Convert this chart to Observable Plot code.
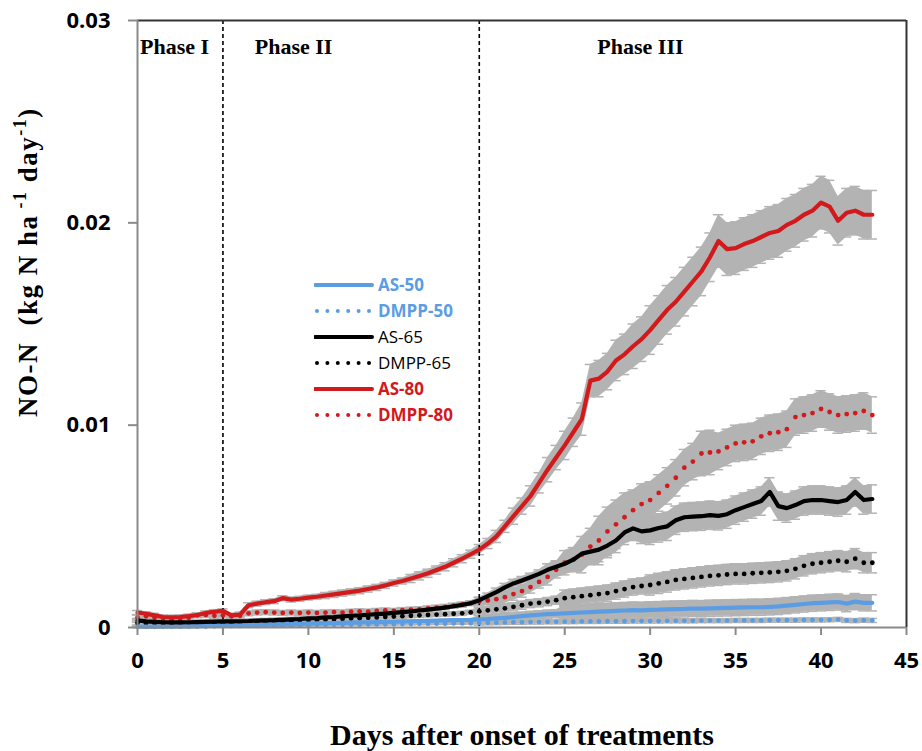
<!DOCTYPE html>
<html><head><meta charset="utf-8">
<script src="https://cdn.jsdelivr.net/npm/d3@7"></script>
<script src="https://cdn.jsdelivr.net/npm/@observablehq/plot@0.6"></script>
<style>
body{margin:0;background:#fff;}
#wrap{position:relative;width:922px;height:751px;}
.legend{position:absolute;left:314px;top:272px;font-family:"Open Sans",sans-serif;font-size:17px;line-height:26px;}
.legend .row{display:flex;align-items:center;height:26px;white-space:nowrap;}
.legend svg{width:64px;height:10px;flex:none;}
</style></head>
<body><div id="wrap"></div>
<script>
// ---- data (days after onset of treatments) ----
const days = [0,0.5,1,1.5,2,2.5,3,3.5,4,4.5,5,5.5,6,6.5,7,7.5,8,8.5,9,9.5,10,10.5,11,11.5,12,12.5,13,13.5,14,14.5,15,15.5,16,16.5,17,17.5,18,18.5,19,19.5,20,20.5,21,21.5,22,22.5,23,23.5,24,24.5,25,25.5,26,26.5,27,27.5,28,28.5,29,29.5,30,30.5,31,31.5,32,32.5,33,33.5,34,34.5,35,35.5,36,36.5,37,37.5,38,38.5,39,39.5,40,40.5,41,41.5,42,42.5,43];
const seriesNames = ["AS-50","DMPP-50","AS-65","DMPP-65","AS-80","DMPP-80"];

const AS50 = [0.00005,0.00004,0.00004,0.00005,0.00005,0.00006,0.00006,0.00007,0.00008,0.00008,
 0.00009,0.00010,0.00011,0.00012,0.00013,0.00014,0.00015,0.00016,0.00017,0.00018,
 0.00019,0.00020,0.00021,0.00022,0.00023,0.00024,0.00025,0.00026,0.00027,0.00028,
 0.00029,0.00030,0.00031,0.00032,0.00033,0.00034,0.00035,0.00036,0.00037,0.00038,
 0.00040,0.00042,0.00045,0.00048,0.00052,0.00056,0.00060,0.00063,0.00066,0.00068,
 0.00070,0.00072,0.00074,0.00076,0.00078,0.00080,0.00082,0.00084,0.00086,0.00085,
 0.00087,0.00088,0.00090,0.00091,0.00092,0.00094,0.00093,0.00095,0.00096,0.00097,
 0.00098,0.00099,0.00100,0.00100,0.00102,0.00104,0.00108,0.00112,0.00116,0.00120,
 0.00122,0.00124,0.00126,0.00118,0.00128,0.00122,0.00122];
const DMPP50 = [0.00003,0.00003,0.00003,0.00004,0.00004,0.00004,0.00005,0.00005,0.00005,0.00006,
 0.00006,0.00007,0.00007,0.00008,0.00008,0.00009,0.00009,0.00010,0.00010,0.00011,
 0.00011,0.00012,0.00012,0.00013,0.00013,0.00014,0.00014,0.00015,0.00015,0.00016,
 0.00016,0.00017,0.00017,0.00018,0.00018,0.00019,0.00019,0.00020,0.00020,0.00021,
 0.00022,0.00023,0.00024,0.00025,0.00026,0.00026,0.00027,0.00027,0.00028,0.00028,
 0.00029,0.00029,0.00030,0.00030,0.00030,0.00031,0.00031,0.00031,0.00032,0.00032,
 0.00032,0.00032,0.00033,0.00033,0.00033,0.00033,0.00034,0.00034,0.00034,0.00034,
 0.00035,0.00035,0.00035,0.00035,0.00036,0.00036,0.00036,0.00036,0.00037,0.00037,
 0.00037,0.00038,0.00040,0.00035,0.00034,0.00036,0.00035];
const AS65 = [0.00035,0.00030,0.00028,0.00026,0.00025,0.00025,0.00026,0.00027,0.00028,0.00029,
 0.00030,0.00030,0.00031,0.00032,0.00034,0.00035,0.00036,0.00038,0.00040,0.00042,
 0.00045,0.00047,0.00050,0.00052,0.00055,0.00058,0.00060,0.00063,0.00066,0.00069,
 0.00072,0.00076,0.00080,0.00084,0.00088,0.00093,0.00098,0.00105,0.00112,0.00120,
 0.00135,0.00155,0.00175,0.00198,0.00218,0.00232,0.00248,0.00265,0.00285,0.00300,
 0.00315,0.00335,0.00365,0.00375,0.00385,0.00405,0.00430,0.00470,0.00490,0.00475,
 0.00480,0.00492,0.00500,0.00530,0.00545,0.00548,0.00550,0.00555,0.00552,0.00560,
 0.00580,0.00595,0.00610,0.00625,0.00670,0.00600,0.00590,0.00605,0.00625,0.00630,
 0.00630,0.00625,0.00620,0.00630,0.00670,0.00630,0.00635];
const DMPP65 = [0.00022,0.00020,0.00018,0.00017,0.00017,0.00018,0.00018,0.00019,0.00020,0.00020,
 0.00021,0.00022,0.00023,0.00024,0.00025,0.00026,0.00028,0.00030,0.00031,0.00033,
 0.00035,0.00036,0.00038,0.00040,0.00042,0.00044,0.00046,0.00048,0.00050,0.00052,
 0.00054,0.00056,0.00058,0.00060,0.00062,0.00064,0.00066,0.00068,0.00070,0.00075,
 0.00080,0.00085,0.00090,0.00095,0.00102,0.00110,0.00118,0.00122,0.00128,0.00135,
 0.00145,0.00150,0.00155,0.00160,0.00165,0.00170,0.00180,0.00190,0.00200,0.00205,
 0.00210,0.00218,0.00225,0.00235,0.00240,0.00245,0.00250,0.00255,0.00258,0.00262,
 0.00265,0.00265,0.00268,0.00270,0.00272,0.00275,0.00280,0.00290,0.00305,0.00315,
 0.00320,0.00325,0.00330,0.00325,0.00340,0.00320,0.00320];
const AS80 = [0.00074,0.00068,0.00060,0.00052,0.00050,0.00052,0.00056,0.00062,0.00072,0.00078,
 0.00082,0.00060,0.00064,0.00110,0.00118,0.00125,0.00130,0.00145,0.00138,0.00142,
 0.00148,0.00152,0.00158,0.00164,0.00170,0.00176,0.00182,0.00190,0.00198,0.00208,
 0.00220,0.00230,0.00242,0.00255,0.00268,0.00284,0.00300,0.00320,0.00340,0.00362,
 0.00385,0.00415,0.00450,0.00500,0.00550,0.00600,0.00650,0.00715,0.00780,0.00840,
 0.00900,0.00965,0.01030,0.01220,0.01230,0.01265,0.01320,0.01350,0.01390,0.01425,
 0.01470,0.01520,0.01570,0.01610,0.01660,0.01710,0.01760,0.01830,0.01910,0.01870,
 0.01875,0.01895,0.01910,0.01930,0.01950,0.01960,0.01990,0.02010,0.02040,0.02060,
 0.02100,0.02080,0.02010,0.02050,0.02060,0.02040,0.02040];
const DMPP80 = [0.00050,0.00055,0.00048,0.00045,0.00040,0.00042,0.00048,0.00060,0.00062,0.00058,
 0.00060,0.00055,0.00058,0.00070,0.00074,0.00076,0.00074,0.00072,0.00074,0.00072,
 0.00074,0.00072,0.00074,0.00076,0.00074,0.00078,0.00080,0.00078,0.00082,0.00084,
 0.00082,0.00086,0.00088,0.00090,0.00094,0.00098,0.00102,0.00108,0.00114,0.00120,
 0.00128,0.00134,0.00140,0.00150,0.00165,0.00180,0.00200,0.00225,0.00250,0.00285,
 0.00320,0.00335,0.00360,0.00400,0.00430,0.00475,0.00510,0.00545,0.00580,0.00610,
 0.00630,0.00665,0.00700,0.00740,0.00790,0.00820,0.00860,0.00865,0.00870,0.00890,
 0.00910,0.00915,0.00920,0.00945,0.00960,0.00965,0.00980,0.01040,0.01050,0.01060,
 0.01080,0.01065,0.01050,0.01055,0.01060,0.01070,0.01050];

// standard errors, one per whole day (day 0 .. 43)
const errAS50 = [0.00005,0.00005,0.00005,0.00005,0.00005,0.00005,0.00005,0.00005,0.00005,0.00005,
 0.00005,0.00005,0.00005,0.00005,0.00005,0.00005,0.00005,0.00005,0.00005,0.00005,
 0.0002,0.0002,0.0002,0.0002,0.0002,0.0004,0.0004,0.0004,0.0004,0.0004,
 0.0004,0.0004,0.0004,0.0004,0.0004,0.0004,0.0004,0.0004,0.0004,0.0004,
 0.0004,0.0004,0.0004,0.0004];
const errDMPP50 = [0.00004,0.00004,0.00004,0.00004,0.00004,0.00004,0.00004,0.00004,0.00004,0.00004,
 0.00004,0.00004,0.00004,0.00004,0.00004,0.00004,0.00004,0.00004,0.00004,0.00004,
 0.0001,0.0001,0.0001,0.0001,0.0001,0.0001,0.0001,0.0001,0.0001,0.0001,
 0.0001,0.0001,0.0001,0.0001,0.0001,0.0001,0.0001,0.0001,0.0001,0.0001,
 0.0001,0.0001,0.0001,0.0001];
const errAS65 = [0.0001,0.0001,0.0001,0.0001,0.0001,0.0001,0.0001,0.0001,0.0001,0.0001,
 0.0001,0.0001,0.0001,0.0001,0.0001,0.0001,0.0001,0.0001,0.0001,0.0001,
 0.00015,0.0002,0.0002,0.0002,0.0003,0.0003,0.0004,0.0006,0.0006,0.0006,
 0.0007,0.0007,0.0007,0.0007,0.0007,0.0007,0.0007,0.0007,0.0007,0.0007,
 0.0007,0.0007,0.0007,0.0007];
const errDMPP65 = [0.0001,0.0001,0.0001,0.0001,0.0001,0.0001,0.0001,0.0001,0.0001,0.0001,
 0.0001,0.0001,0.0001,0.0001,0.0001,0.0001,0.0001,0.0001,0.0001,0.0001,
 0.0002,0.0002,0.0002,0.0002,0.0002,0.0004,0.0004,0.0004,0.0004,0.0004,
 0.0005,0.0005,0.0005,0.0005,0.0005,0.0005,0.0005,0.0005,0.0005,0.0005,
 0.0005,0.0005,0.0005,0.0005];
const errAS80 = [0.0001,0.0001,0.0001,0.0001,0.0001,0.0001,0.00012,0.00012,0.00012,0.00012,
 0.00012,0.00015,0.00015,0.00015,0.00015,0.00015,0.0002,0.0002,0.0002,0.0002,
 0.00025,0.0003,0.0004,0.0005,0.0006,0.0007,0.0008,0.0009,0.001,0.0011,
 0.0012,0.0012,0.0012,0.0012,0.0013,0.0013,0.0013,0.0013,0.0013,0.0013,
 0.0013,0.0012,0.0012,0.0012];
const errDMPP80 = [0.00012,0.00012,0.00012,0.00012,0.00012,0.00012,0.00012,0.00012,0.00012,0.00012,
 0.00012,0.00012,0.00012,0.00012,0.00012,0.00012,0.00012,0.00012,0.00012,0.00012,
 0.0002,0.0003,0.0003,0.0003,0.0004,0.0006,0.0009,0.0012,0.0012,0.001,
 0.0009,0.0009,0.0009,0.0011,0.0009,0.0009,0.0009,0.0009,0.0009,0.0009,
 0.0009,0.0009,0.0009,0.0009];

const xTicks = [0,5,10,15,20,25,30,35,40,45];
const yTicks = [0,0.01,0.02,0.03];
const phaseBounds = [5,20];
const phaseNames = ["Phase I","Phase II","Phase III"];
const phaseLabelX = [2.17, 9.13, 29.43];

// ---- styling ----
const BLUE = "#5b9de3", RED = "#d2191c", BLACK = "#000000", GRAY = "#b3b3b3";
const series = [
  {name:"AS-50",   values:AS50,   err:errAS50,   color:BLUE,  dotted:false, bold:true},
  {name:"DMPP-50", values:DMPP50, err:errDMPP50, color:BLUE,  dotted:true,  bold:true},
  {name:"AS-65",   values:AS65,   err:errAS65,   color:BLACK, dotted:false, bold:false},
  {name:"DMPP-65", values:DMPP65, err:errDMPP65, color:BLACK, dotted:true,  bold:false},
  {name:"AS-80",   values:AS80,   err:errAS80,   color:RED,   dotted:false, bold:true},
  {name:"DMPP-80", values:DMPP80, err:errDMPP80, color:RED,   dotted:true,  bold:true}
];
const rows = [];
for (const s of series) days.forEach((d,i) => rows.push({series:s.name, day:d, v:s.values[i], e:s.err[Math.floor(d)]}));
const of = name => rows.filter(r => r.series === name);

const bandMarks = [];
for (const s of series) {
  const r = of(s.name);
  bandMarks.push(Plot.areaY(r, {x:"day", y1:d=>d.v-d.e, y2:d=>d.v+d.e, fill:GRAY, curve:"linear"}));
  bandMarks.push(Plot.ruleY(r, {x1:d=>d.day-0.3, x2:d=>d.day+0.3, y:d=>d.v+d.e, stroke:GRAY, strokeWidth:1.5}));
  bandMarks.push(Plot.ruleY(r, {x1:d=>d.day-0.3, x2:d=>d.day+0.3, y:d=>Math.max(0,d.v-d.e), stroke:GRAY, strokeWidth:1.5}));
}
const dataMarks = [];
for (const s of series) {
  const r = of(s.name);
  if (s.dotted) dataMarks.push(Plot.dot(r, {x:"day", y:"v", r:2.4, fill:s.color, stroke:"none"}));
}
for (const s of series) {
  const r = of(s.name);
  if (!s.dotted) dataMarks.push(Plot.line(r, {x:"day", y:"v", stroke:s.color, strokeWidth:4.2, strokeLinejoin:"round"}));
}

const serif = "'Liberation Serif', 'Times New Roman', serif";
const plot = Plot.plot({
  width:922, height:751,
  marginLeft:137, marginRight:16, marginTop:20, marginBottom:124,
  style:{fontFamily:"'Open Sans', sans-serif", background:"white", overflow:"visible"},
  x:{domain:[0,45]},
  y:{domain:[0,0.03]},
  marks:[
    ...bandMarks,
    Plot.ruleX(phaseBounds, {stroke:"black", strokeWidth:1.6, strokeDasharray:"4,3"}),
    ...dataMarks,
    Plot.ruleY([0.03], {stroke:"#333", strokeWidth:2}),
    Plot.ruleX([45], {stroke:"#333", strokeWidth:2}),
    Plot.ruleX([0], {stroke:"#8a8a8a", strokeWidth:2}),
    Plot.ruleY([0], {stroke:"#8a8a8a", strokeWidth:2}),
    Plot.axisX({ticks:xTicks, tickSize:8, tickPadding:17, stroke:"#8a8a8a", strokeWidth:2, fill:"black",
                fontSize:22, fontWeight:"bold", label:null}),
    Plot.axisY({ticks:yTicks, tickSize:9, tickPadding:18, stroke:"#8a8a8a", strokeWidth:2, fill:"black",
                fontSize:22, fontWeight:"bold", label:null, tickFormat:d => d === 0 ? "0" : d.toFixed(2)}),
    Plot.text(phaseNames, {x:(d,i)=>phaseLabelX[i], y:()=>0.0287, text:d=>d,
                fontFamily:serif, fontWeight:"bold", fontSize:22, fill:"black"})
  ]
});

const svg = d3.select(plot);
const yl = svg.append("text")
  .attr("transform","translate(37,417) rotate(-90)")
  .attr("text-anchor","start")
  .attr("letter-spacing","1.5")
  .attr("font-family", serif).attr("font-weight","bold").attr("font-size",27).attr("fill","black");
yl.append("tspan").text("NO-N\u00a0\u00a0(kg N ha");
yl.append("tspan").attr("dy",-11).attr("font-size",18).text("\u00a0-1");
yl.append("tspan").attr("dy",11).text("\u00a0day");
yl.append("tspan").attr("dy",-11).attr("font-size",18).text("-1");
yl.append("tspan").attr("dy",11).text(")");
svg.append("text").attr("x",522).attr("y",745).attr("text-anchor","middle")
  .attr("font-family", serif).attr("font-weight","bold").attr("font-size",30).attr("fill","black")
  .text("Days after onset of treatments");

const wrap = document.getElementById("wrap");
wrap.appendChild(plot);

// legend
const leg = document.createElement("div");
leg.className = "legend";
for (const s of series) {
  const row = document.createElement("div");
  row.className = "row";
  let sw;
  if (s.dotted) {
    sw = `<svg viewBox="0 0 64 10">${[0,1,2,3,4,5].map(k=>`<circle cx="${3+k*10.4}" cy="5" r="2" fill="${s.color}"/>`).join("")}</svg>`;
  } else {
    sw = `<svg viewBox="0 0 64 10"><line x1="1" x2="58" y1="5" y2="5" stroke="${s.color}" stroke-width="4" stroke-linecap="round"/></svg>`;
  }
  row.innerHTML = sw + `<span style="color:${s.color};font-weight:${s.bold?700:400}">${s.name}</span>`;
  leg.appendChild(row);
}
wrap.appendChild(leg);
</script>
</body></html>
